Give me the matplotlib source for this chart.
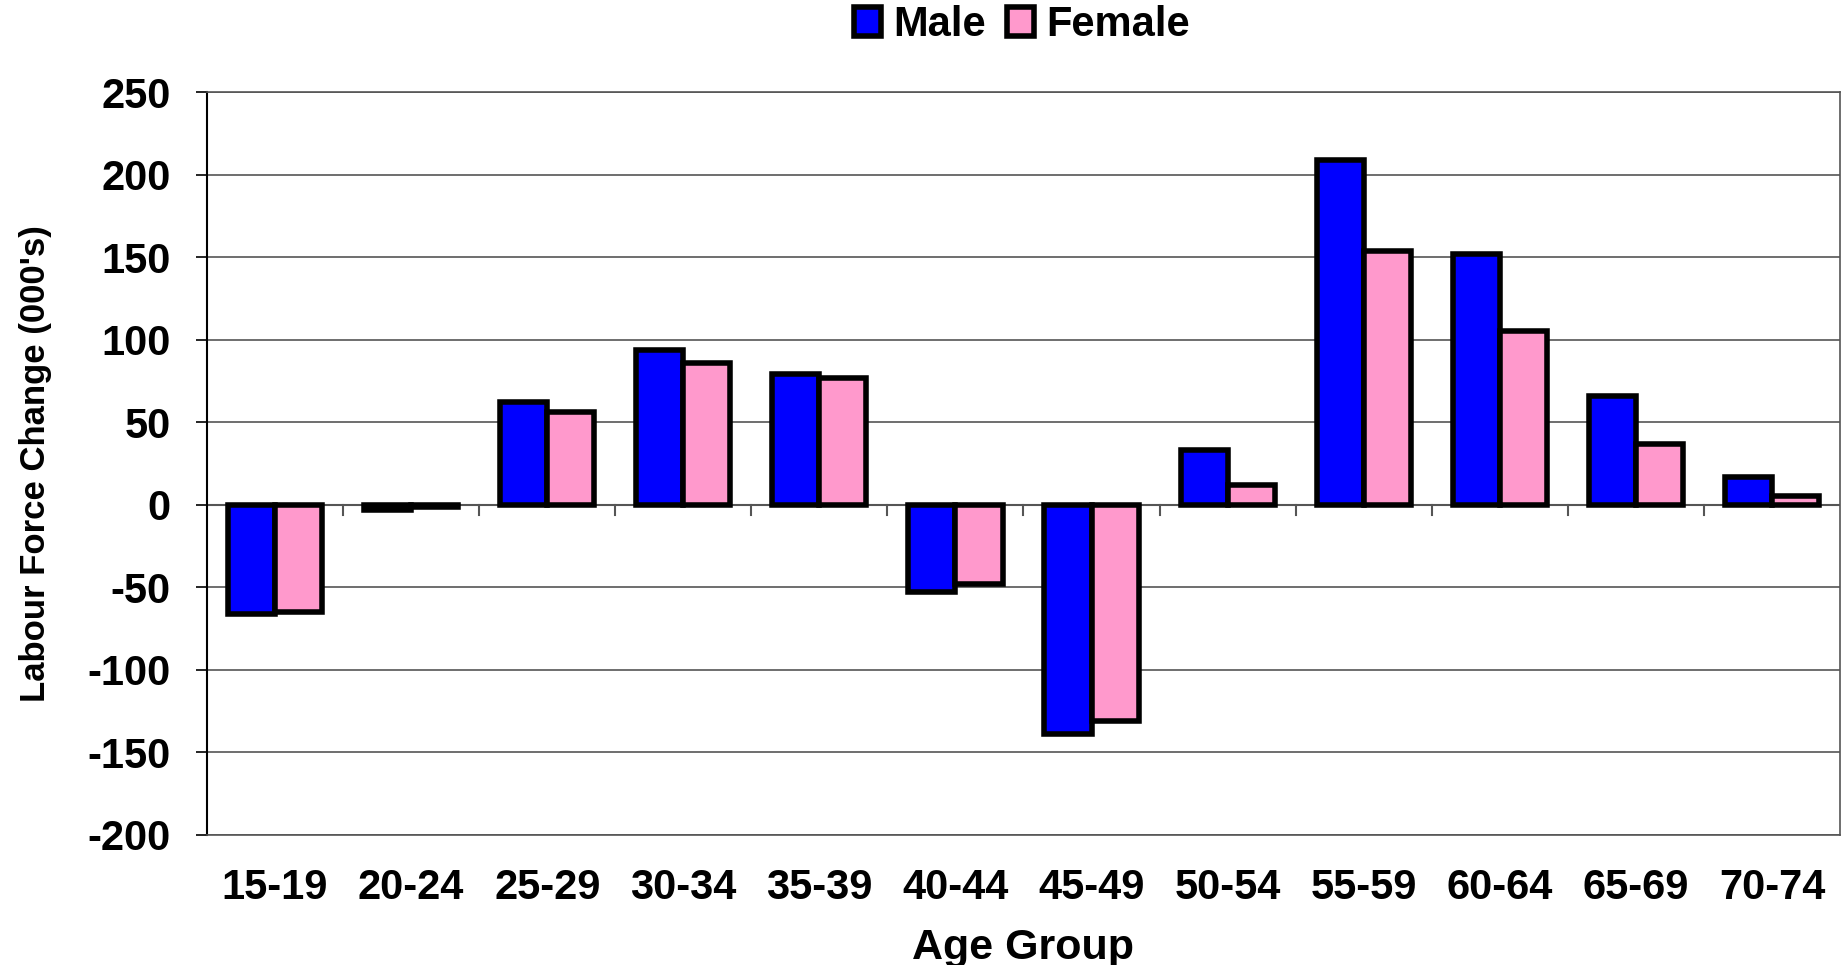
import numpy as np
import matplotlib.pyplot as plt

plt.rcParams['font.family'] = ['Liberation Sans', 'DejaVu Sans']
plt.rcParams['font.weight'] = 'bold'

age_groups = ['15-19', '20-24', '25-29', '30-34', '35-39', '40-44',
              '45-49', '50-54', '55-59', '60-64', '65-69', '70-74']
male = [-66, -3, 62, 94, 79, -53, -139, 33, 209, 152, 66, 17]
female = [-65, -1.5, 56, 86, 77, -48, -131, 12, 154, 105, 37, 5.5]
yticks = [-200, -150, -100, -50, 0, 50, 100, 150, 200, 250]

fig = plt.figure(figsize=(18.48, 9.65), dpi=100)
ax = fig.add_axes([207 / 1848, 1 - 835 / 965, (1840 - 207) / 1848, (835 - 92) / 965])

x = np.arange(len(age_groups))
w = 0.346
ax.bar(x - w / 2, male, w, color='#0000ff', edgecolor='black', linewidth=4,
       label='Male', zorder=3)
ax.bar(x + w / 2, female, w, color='#ff99cc', edgecolor='black', linewidth=4,
       label='Female', zorder=3)

ax.set_xlim(-0.5, len(age_groups) - 0.5)
ax.set_ylim(-200, 250)
ax.set_yticks(yticks)
ax.set_yticklabels([str(t) for t in yticks], fontsize=30, fontweight='bold')
ax.yaxis.grid(True, color='#555555', linewidth=1.2, zorder=0)
ax.tick_params(axis='y', length=8, width=1.2, pad=18)

# category axis sits on the zero line, labels along the bottom
ax.axhline(0, color='#555555', linewidth=1.5, zorder=2)
for b in np.arange(0.5, len(age_groups) - 0.5, 1):
    ax.plot([b, b], [0, -6], color='#555555', linewidth=1.5, zorder=2)
ax.set_xticks(x)
ax.set_xticklabels(age_groups, fontsize=30, fontweight='bold')
ax.tick_params(axis='x', length=0, pad=24)

for s in ['top', 'right', 'bottom']:
    ax.spines[s].set_color('#555555')
    ax.spines[s].set_linewidth(1.2)
ax.spines['left'].set_color('black')
ax.spines['left'].set_linewidth(1.5)

ax.set_ylabel("Labour Force Change (000's)", fontsize=25, fontweight='bold', labelpad=26)
ax.set_xlabel('Age Group', fontsize=31, fontweight='bold', labelpad=14)

fig.legend(loc='upper center', bbox_to_anchor=(0.553, 1.034), ncol=2, frameon=False,
           prop={'size': 30, 'weight': 'bold'}, handlelength=0.65, handleheight=0.7,
           handletextpad=0.3, columnspacing=0.5)

fig.savefig('out.png', dpi=100)
